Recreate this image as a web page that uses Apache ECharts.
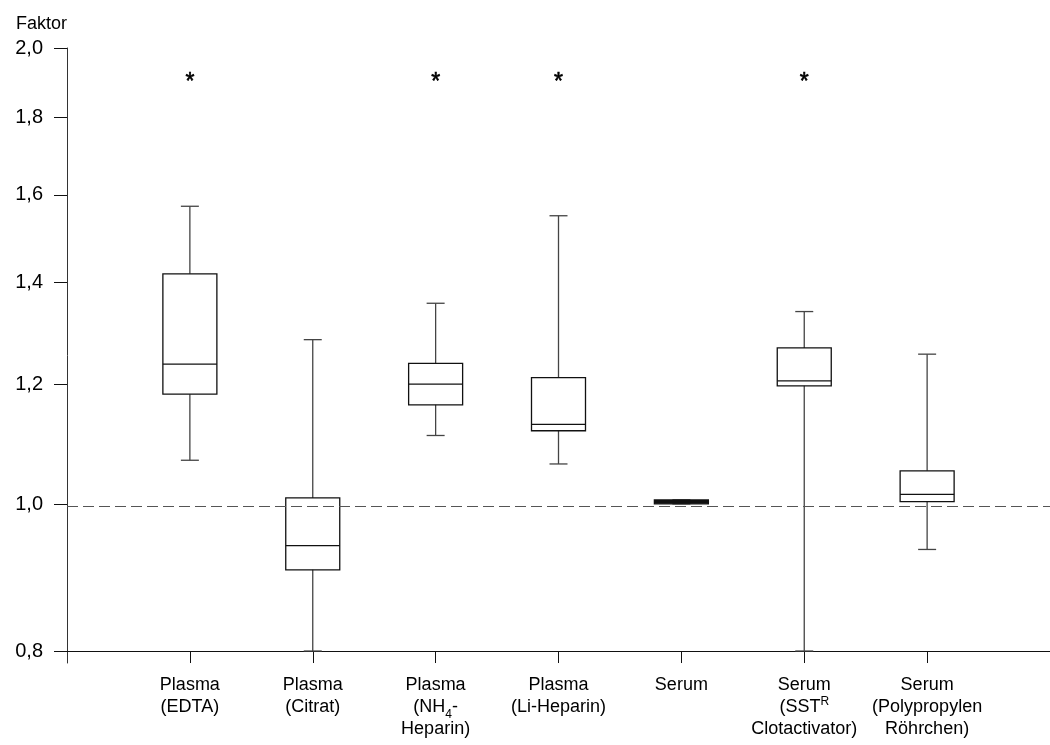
<!DOCTYPE html>
<html>
<head>
<meta charset="utf-8">
<script src="https://cdn.jsdelivr.net/npm/echarts@6/dist/echarts.min.js"></script>
<style>html,body{margin:0;padding:0;background:#fff;}#c{width:1050px;height:745px;}</style>
</head>
<body>
<div id="c"></div>
<script>
// ---- data ----
const categories = [
  'Plasma\n(EDTA)',
  'Plasma\n(Citrat)',
  'Plasma\n(NH{sub|4}-\nHeparin)',
  'Plasma\n(Li-Heparin)',
  'Serum',
  'Serum\n(SST{sup|R}\nClotactivator)',
  'Serum\n(Polypropylen\nRöhrchen)'
];
const whiskerLow  = [1.069, 0.800, 1.110, 1.063, 1.0005, 0.800, 0.9335];
const q1          = [1.182, 0.905, 1.163, 1.118, 1.0005, 1.197, 1.004];
const median      = [1.237, 0.939, 1.200, 1.129, 1.0035, 1.206, 1.015];
const q3          = [1.419, 1.0096, 1.2386, 1.212, 1.0065, 1.268, 1.052];
const whiskerHigh = [1.5725, 1.284, 1.357, 1.550, 1.0065, 1.340, 1.256];
const outliers    = [1.912, null, 1.912, 1.912, null, 1.912, null];
const yTickLabels = [0.8, 1.0, 1.2, 1.4, 1.6, 1.8, 2.0];
const refLine = 1.0;

// log scale relative to 0.8
const base = 0.8;
const T = v => Math.log(v / base);
const yTickPos = yTickLabels.map(T);
const catPos = categories.map((c, i) => i + 1);

const boxData = categories.map((c, i) => [i + 1, T(whiskerLow[i]), T(q1[i]), T(median[i]), T(q3[i]), T(whiskerHigh[i])]);
const starData = [];
outliers.forEach((v, i) => { if (v != null) starData.push([i + 1, T(v)]); });

const FONT = 'Liberation Sans, Arial, sans-serif';
const chart = echarts.init(document.getElementById('c'), null, {renderer: 'canvas'});

const option = {
  backgroundColor: '#fff',
  animation: false,
  title: {
    text: 'Faktor', left: 11, top: 10,
    textStyle: {fontSize: 18, fontWeight: 'normal', color: '#000', fontFamily: FONT}
  },
  grid: {left: 67, right: 0, top: 48, bottom: 82, containLabel: false, outerBoundsMode: 'none'},
  xAxis: {
    type: 'value', min: 0, max: 8,
    splitLine: {show: false},
    axisLine: {show: true, onZero: true, lineStyle: {color: '#111', width: 1}},
    axisTick: {show: true, customValues: catPos, length: 12, lineStyle: {color: '#111', width: 1}},
    axisLabel: {
      customValues: catPos,
      margin: 11,
      formatter: v => categories[Math.round(v) - 1] || '',
      color: '#000', fontSize: 18, lineHeight: 22, fontFamily: FONT, align: 'center',
      rich: {
        sub: {fontSize: 12, lineHeight: 22, verticalAlign: 'bottom', color: '#000', fontFamily: FONT, padding: [0, 0, -3, 0]},
        sup: {fontSize: 12, lineHeight: 22, verticalAlign: 'top', color: '#000', fontFamily: FONT}
      }
    }
  },
  yAxis: {
    type: 'value',
    min: -0.0182, max: T(2.0),
    splitLine: {show: false},
    axisLine: {show: true, onZero: true, lineStyle: {color: '#333', width: 1}},
    axisTick: {show: true, customValues: yTickPos, length: 13, lineStyle: {color: '#111', width: 1}},
    axisLabel: {
      customValues: yTickPos,
      margin: 24,
      fontSize: 20, color: '#000', fontFamily: FONT,
      formatter: v => {
        let best = 0, bd = 1e9;
        yTickPos.forEach((p, i) => { const d = Math.abs(p - v); if (d < bd) { bd = d; best = i; } });
        return yTickLabels[best].toFixed(1).replace('.', ',');
      }
    }
  },
  series: [
    {
      type: 'custom',
      data: boxData,
      encode: {x: 0, y: [1, 2, 3, 4, 5]},
      renderItem: (params, api) => {
        const x = api.value(0);
        const pLow = api.coord([x, api.value(1)]);
        const pQ1 = api.coord([x, api.value(2)]);
        const pMed = api.coord([x, api.value(3)]);
        const pQ3 = api.coord([x, api.value(4)]);
        const pHigh = api.coord([x, api.value(5)]);
        const cx = pQ1[0];
        const hw = 27, cw = 9;
        const thin = (pQ1[1] - pQ3[1]) < 6;
        const st = {stroke: '#111', lineWidth: 1.3, fill: thin ? '#111' : null};
        const wst = {stroke: '#444', lineWidth: 1.3, fill: null};
        return {
          type: 'group',
          children: [
            {type: 'line', shape: {x1: cx, y1: pQ3[1], x2: cx, y2: pHigh[1]}, style: wst},
            {type: 'line', shape: {x1: cx, y1: pQ1[1], x2: cx, y2: pLow[1]}, style: wst},
            {type: 'line', shape: {x1: cx - cw, y1: pHigh[1], x2: cx + cw, y2: pHigh[1]}, style: wst},
            {type: 'line', shape: {x1: cx - cw, y1: pLow[1], x2: cx + cw, y2: pLow[1]}, style: wst},
            {type: 'rect', shape: {x: cx - hw, y: pQ3[1], width: 2 * hw, height: pQ1[1] - pQ3[1]}, style: st},
            {type: 'line', shape: {x1: cx - hw, y1: pMed[1], x2: cx + hw, y2: pMed[1]}, style: {stroke: '#111', lineWidth: 1.3}}
          ]
        };
      },
      markLine: {
        silent: true, symbol: 'none', label: {show: false},
        lineStyle: {color: '#555', width: 1.2, type: [11, 5]},
        data: [{yAxis: T(refLine)}]
      },
      z: 3
    },
    {
      type: 'custom',
      data: starData,
      encode: {x: 0, y: 1},
      renderItem: (params, api) => {
        const p = api.coord([api.value(0), api.value(1)]);
        return {
          type: 'text', x: p[0], y: p[1] + 5,
          style: {text: '*', fontSize: 23, fontFamily: FONT, fill: '#000', align: 'center', verticalAlign: 'middle', stroke: '#000', lineWidth: 0.6}
        };
      },
      z: 4
    }
  ]
};
chart.setOption(option);
</script>
</body>
</html>
